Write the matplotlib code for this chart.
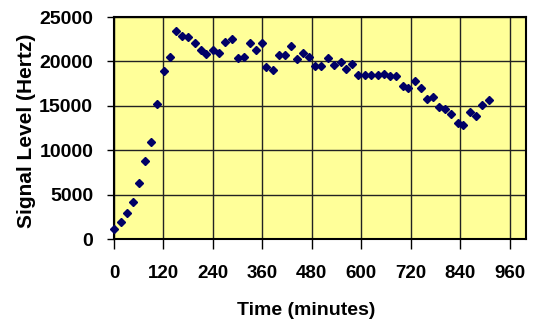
import matplotlib
matplotlib.use("Agg")
import matplotlib.pyplot as plt

time_min = [0, 16, 32, 45, 60, 76, 90, 105, 121, 135, 150, 166, 180, 196, 210, 224,
            241, 255, 269, 286, 301, 315, 331, 345, 359, 368, 385, 400, 414, 430, 444,
            459, 474, 489, 503, 520, 534, 551, 564, 578, 593, 609, 623, 640, 655, 669,
            684, 701, 714, 730, 745, 759, 774, 789, 803, 819, 834, 848, 864, 878, 893, 909]
signal_hz = [1100, 1900, 2900, 4150, 6350, 8750, 10950, 15200, 18900, 20500, 23450,
             22900, 22700, 22100, 21300, 20850, 21300, 20950, 22200, 22550, 20350, 20450,
             22100, 21300, 22100, 19350, 19000, 20700, 20700, 21750, 20250, 21000, 20450,
             19450, 19450, 20400, 19650, 19900, 19200, 19700, 18500, 18500, 18450, 18450,
             18600, 18300, 18300, 17250, 17050, 17800, 17050, 15750, 16000, 14850, 14650,
             14050, 13050, 12800, 14300, 13800, 15100, 15700]
x_ticks = [0, 120, 240, 360, 480, 600, 720, 840, 960]
y_ticks = [0, 5000, 10000, 15000, 20000, 25000]

plt.rcParams['font.family'] = ['Liberation Sans', 'DejaVu Sans']

fig = plt.figure(figsize=(5.46, 3.31), dpi=100)
ax = fig.add_axes([114/546, 1-239/331, 412/546, 222/331])
ax.set_facecolor('#FFFF99')

ax.plot(time_min, signal_hz, linestyle='none', marker='D', markersize=3.8,
        color='#000066', clip_on=False, zorder=3)

ax.set_xlim(0, 1000)
ax.set_ylim(0, 25000)
ax.set_xticks(x_ticks)
ax.set_yticks(y_ticks)
ax.grid(True, color='#222222', linewidth=1.0)
ax.set_axisbelow(True)
for s in ax.spines.values():
    s.set_linewidth(1.5)
    s.set_color('black')

ax.tick_params(axis='x', direction='out', length=7, width=1, pad=12, labelsize=13.5)
ax.tick_params(axis='y', direction='out', length=5, width=1, pad=10, labelsize=14)
for lab in ax.get_xticklabels() + ax.get_yticklabels():
    lab.set_fontweight('bold')

ax.set_xlabel('Time (minutes)', fontsize=14, fontweight='bold')
ax.xaxis.set_label_coords(0.467, -0.285)
ax.set_ylabel('Signal Level (Hertz)', fontsize=15, fontweight='bold')
ax.yaxis.set_label_coords(-0.19, 0.486)

fig.savefig('out.png', dpi=100)
